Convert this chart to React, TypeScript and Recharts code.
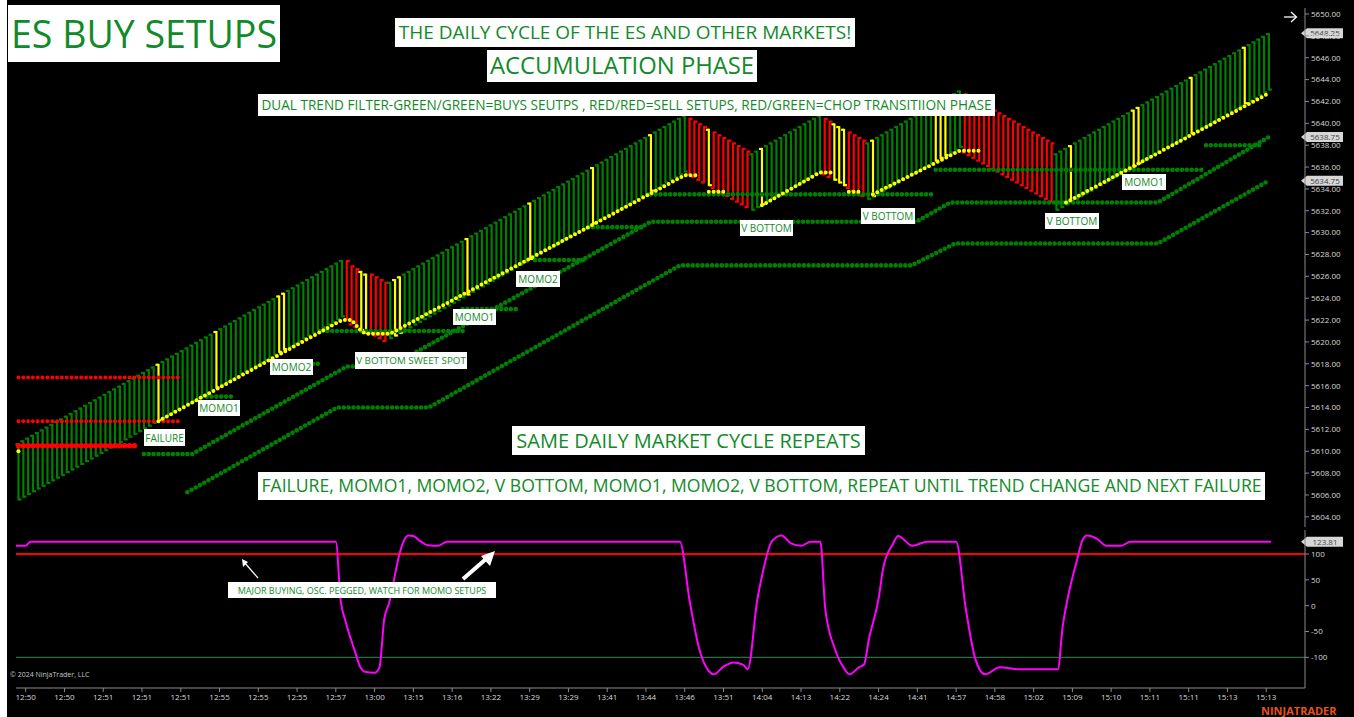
import React from "react";
import { ComposedChart, Bar, Line, XAxis, YAxis, ReferenceLine } from "recharts";

// bar highs / lows, one per bar (index 0..259)
const barHighs = [
  5610.75, 5611, 5611.25, 5611.5, 5611.75, 5612, 5612.25, 5612.5, 5612.75, 5613,
  5613.25, 5613.5, 5613.75, 5614, 5614.25, 5614.5, 5614.75, 5615, 5615.25, 5615.5,
  5615.75, 5616, 5616.25, 5616.5, 5616.75, 5617, 5617.25, 5617.5, 5617.75, 5618,
  5618.25, 5618.5, 5618.75, 5619, 5619.25, 5619.5, 5619.75, 5620, 5620.25, 5620.5,
  5620.75, 5621, 5621.25, 5621.5, 5621.75, 5622, 5622.25, 5622.5, 5622.75, 5623,
  5623.25, 5623.5, 5623.75, 5624, 5624.25, 5624.5, 5624.75, 5625, 5625.25, 5625.5,
  5625.75, 5626, 5626.25, 5626.5, 5626.75, 5627, 5627.25, 5627.5, 5627.5, 5627,
  5626.75, 5626.5, 5626.25, 5626.25, 5626, 5625.75, 5625.5, 5625.5, 5625.75, 5626,
  5626.25, 5626.5, 5626.75, 5627, 5627.25, 5627.5, 5627.75, 5628, 5628.25, 5628.5,
  5628.75, 5629, 5629.25, 5629.5, 5629.75, 5630, 5630.25, 5630.5, 5630.75, 5631,
  5631.25, 5631.5, 5631.75, 5632, 5632.25, 5632.5, 5632.75, 5633, 5633.25, 5633.5,
  5633.75, 5634, 5634.25, 5634.5, 5634.75, 5635, 5635.25, 5635.5, 5635.75, 5636,
  5636.25, 5636.5, 5636.75, 5637, 5637.25, 5637.5, 5637.75, 5638, 5638.25, 5638.5,
  5638.75, 5639, 5639.25, 5639.5, 5639.75, 5640, 5640.25, 5640.5, 5640.75, 5640.5,
  5640.25, 5640, 5639.75, 5639.5, 5639.25, 5639, 5638.75, 5638.5, 5638.25, 5638,
  5637.75, 5637.5, 5637.25, 5637.5, 5637.75, 5638, 5638.25, 5638.5, 5638.75, 5639,
  5639.25, 5639.5, 5639.75, 5640, 5640.25, 5640.5, 5640.75, 5640.5, 5640.25, 5640,
  5639.75, 5639.5, 5639.25, 5639, 5638.75, 5638.5, 5638.25, 5638.5, 5638.75, 5639,
  5639.25, 5639.5, 5639.75, 5640, 5640.25, 5640.5, 5640.75, 5641, 5641.25, 5641.5,
  5641.75, 5642, 5642.25, 5642.5, 5642.75, 5643, 5642.75, 5642.5, 5642.25, 5642,
  5641.75, 5641.5, 5641.25, 5641, 5640.75, 5640.5, 5640.25, 5640, 5639.75, 5639.5,
  5639.25, 5639, 5638.75, 5638.5, 5638.25, 5637.25, 5637.5, 5637.75, 5638, 5638.25,
  5638.5, 5638.75, 5639, 5639.25, 5639.5, 5639.75, 5640, 5640.25, 5640.5, 5640.75,
  5641, 5641.25, 5641.5, 5641.75, 5642, 5642.25, 5642.5, 5642.75, 5643, 5643.25,
  5643.5, 5643.75, 5644, 5644.25, 5644.5, 5644.75, 5645, 5645.25, 5645.5, 5645.75,
  5646, 5646.25, 5646.5, 5646.75, 5647, 5647.25, 5647.5, 5647.75, 5648, 5648.25,
];

const barLows = [
  5605.5, 5605.75, 5606, 5606.25, 5606.5, 5606.75, 5607, 5607.25, 5607.5, 5607.75,
  5608, 5608.25, 5608.5, 5608.75, 5609, 5609.25, 5609.5, 5609.75, 5610, 5610.25,
  5610.5, 5610.75, 5611, 5611.25, 5611.5, 5611.75, 5612, 5612.25, 5612.5, 5612.75,
  5613, 5613.25, 5613.5, 5613.75, 5614, 5614.25, 5614.5, 5614.75, 5615, 5615.25,
  5615.5, 5615.75, 5616, 5616.25, 5616.5, 5616.75, 5617, 5617.25, 5617.5, 5617.75,
  5618, 5618.25, 5618.5, 5618.75, 5619, 5619.25, 5619.5, 5619.75, 5620, 5620.25,
  5620.5, 5620.75, 5621, 5621.25, 5621.5, 5621.75, 5622, 5622.25, 5622, 5621.5,
  5621.25, 5621, 5620.75, 5620.75, 5620.5, 5620.25, 5620, 5620.25, 5620.5, 5620.75,
  5621, 5621.25, 5621.5, 5621.75, 5622, 5622.25, 5622.5, 5622.75, 5623, 5623.25,
  5623.5, 5623.75, 5624, 5624.25, 5624.5, 5624.75, 5625, 5625.25, 5625.5, 5625.75,
  5626, 5626.25, 5626.5, 5626.75, 5627, 5627.25, 5627.5, 5627.75, 5628, 5628.25,
  5628.5, 5628.75, 5629, 5629.25, 5629.5, 5629.75, 5630, 5630.25, 5630.5, 5630.75,
  5631, 5631.25, 5631.5, 5631.75, 5632, 5632.25, 5632.5, 5632.75, 5633, 5633.25,
  5633.5, 5633.75, 5634, 5634.25, 5634.5, 5634.75, 5635, 5635.25, 5635.5, 5635.25,
  5635, 5634.75, 5634.5, 5634.25, 5634, 5633.75, 5633.5, 5633.25, 5633, 5632.75,
  5632.5, 5632.25, 5632, 5632.25, 5632.5, 5632.75, 5633, 5633.25, 5633.5, 5633.75,
  5634, 5634.25, 5634.5, 5634.75, 5635, 5635.25, 5635.5, 5635.25, 5635, 5634.75,
  5634.5, 5634.25, 5634, 5633.75, 5633.5, 5633.25, 5633, 5633.25, 5633.5, 5633.75,
  5634, 5634.25, 5634.5, 5634.75, 5635, 5635.25, 5635.5, 5635.75, 5636, 5636.25,
  5636.5, 5636.75, 5637, 5637.25, 5637.5, 5637.75, 5637.25, 5637, 5636.75, 5636.5,
  5636.25, 5636, 5635.75, 5635.5, 5635.25, 5635, 5634.75, 5634.5, 5634.25, 5634,
  5633.75, 5633.5, 5633.25, 5633, 5632.75, 5632, 5632.25, 5632.5, 5632.75, 5633,
  5633.25, 5633.5, 5633.75, 5634, 5634.25, 5634.5, 5634.75, 5635, 5635.25, 5635.5,
  5635.75, 5636, 5636.25, 5636.5, 5636.75, 5637, 5637.25, 5637.5, 5637.75, 5638,
  5638.25, 5638.5, 5638.75, 5639, 5639.25, 5639.5, 5639.75, 5640, 5640.25, 5640.5,
  5640.75, 5641, 5641.25, 5641.5, 5641.75, 5642, 5642.25, 5642.5, 5642.75, 5643,
];

// bar colour runs: g = green, r = red, y = yellow
const colorRuns: [string, number][] = [
  ["g", 29], ["y", 1], ["g", 11], ["y", 1], ["g", 12], ["y", 2], ["g", 12],
  ["r", 3], ["y", 2], ["r", 4], ["g", 1], ["y", 2], ["g", 13], ["y", 1],
  ["g", 12], ["y", 1], ["g", 12], ["y", 1], ["g", 11], ["y", 1], ["g", 7],
  ["r", 4], ["y", 1], ["r", 8], ["g", 2], ["y", 1], ["g", 12], ["r", 2],
  ["y", 3], ["r", 4], ["g", 1], ["y", 1], ["g", 12], ["y", 3], ["g", 3],
  ["r", 19], ["g", 3], ["y", 1], ["g", 12], ["y", 2], ["g", 10], ["y", 1],
  ["g", 10], ["y", 1], ["g", 5],
];

// trailing stop dots [bar index, price] vertices
const greenStops: [number, number][][] = [
  [[35, 5606.25], [66, 5614], [85, 5614], [137, 5627], [185, 5627], [194, 5629], [236, 5629], [259, 5634.75]],
  [[26, 5609.75], [36, 5609.75], [68, 5617.75], [77, 5617.75], [131, 5631], [186, 5631], [193, 5632.75], [236, 5632.75], [259, 5638.75]],
  [[38, 5615], [45, 5615]],
  [[55, 5618], [63, 5618]],
  [[63, 5621], [93, 5621]],
  [[92, 5623], [104, 5623]],
  [[107, 5627.5], [118, 5627.5]],
  [[118, 5630.5], [130, 5630.5]],
  [[131, 5633.5], [190, 5633.5]],
  [[190, 5635.75], [246, 5635.75]],
  [[246, 5638], [258, 5638]],
];

const yellowTrail: [number, number][][] = [
  [[0, 5610]],
  [[29, 5612.75], [67, 5622], [69, 5622], [70, 5621.5], [71, 5621], [72, 5620.75], [77, 5620.75], [138, 5635.25], [141, 5635.25]],
  [[143, 5633.75], [147, 5633.75]],
  [[154, 5632.5], [166, 5635.5], [169, 5635.5]],
  [[172, 5633.75], [175, 5633.75]],
  [[177, 5633.5], [195, 5637.5], [199, 5637.5]],
  [[217, 5632.75], [259, 5642.75]],
];

const redLevels: [number, number][][] = [
  [[0, 5616.75], [34, 5616.75]],
  [[0, 5612.75], [34, 5612.75]],
  [[0, 5610.5], [25, 5610.5]],
];

// oscillator vertices [bar index, value]
const oscPoints: [number, number][] = [
  [0, 116], [2, 116], [3, 123.81], [66, 123.81], [67, 10], [68, -30], [70, -90], [71, -118],
  [72, -128], [74, -130], [75, -120], [76, -25], [77, 5], [78, 50], [79, 95], [80, 125],
  [81, 136], [82, 135], [83, 128], [85, 117], [87, 116], [89, 123.81], [137, 123.81],
  [139, 10], [141, -84], [143, -127], [144, -133], [146, -118], [148, -110], [150, -114],
  [151, -123], [153, 13], [154, 60], [156, 125], [158, 136], [160, 120], [162, 116],
  [164, 123.81], [166, 123.81], [167, -6], [169, -84], [171, -123], [172, -133], [174, -119],
  [175, -114], [176, -65], [178, 13], [179, 75], [181, 120], [182, 135], [185, 116],
  [188, 123.81], [194, 123.81], [196, -6], [198, -104], [200, -133], [203, -119], [207, -123],
  [215, -123], [216, -40], [217, 13], [219, 90], [220, 125], [221, 136], [223, 130],
  [225, 116], [228, 116], [230, 123.81], [259, 123.81],
];

const timeLabels = [
  "12:50", "12:50", "12:51", "12:51", "12:51", "12:55", "12:55", "12:55", "12:57", "13:00",
  "13:15", "13:16", "13:22", "13:29", "13:29", "13:41", "13:44", "13:46", "13:51", "14:04",
  "14:13", "14:22", "14:24", "14:41", "14:57", "14:58", "15:02", "15:09", "15:10", "15:11",
  "15:11", "15:13", "15:13",
];

const priceTicks = [
  5604, 5606, 5608, 5610, 5612, 5614, 5616, 5618, 5620, 5622, 5624, 5626,
  5628, 5630, 5632, 5634, 5636, 5638, 5640, 5642, 5644, 5646, 5648, 5650,
];
const oscTicks = [100, 50, 0, -50, -100];

const COLORS: Record<string, string> = { g: "#008000", r: "#ff0000", y: "#ffff00" };
const GREEN_DOT = "#008000";
const PAD = 7;
const STEP = 4.83;

const tickIdx = timeLabels.map((_, k) => 2 + 8 * k);
const labelAt: Record<number, string> = {};
tickIdx.forEach((t, k) => (labelAt[t] = timeLabels[k]));

function buildRows() {
  const colors: string[] = colorRuns.flatMap(([c, n]) => Array(n).fill(c));
  const rows: any[] = [];
  for (let i = 0; i < barHighs.length + PAD; i++) {
    rows.push({ idx: i, high: barHighs[i], low: barLows[i], color: colors[i] });
  }
  const put = (prefix: string, segs: [number, number][][]) =>
    segs.forEach((seg, k) => seg.forEach(([i, v]) => (rows[i][prefix + k] = v)));
  put("g", greenStops);
  put("y", yellowTrail);
  put("r", redLevels);
  oscPoints.forEach(([i, v]) => (rows[i].osc = v));
  return rows;
}
const rows = buildRows();

function RangeBar(props: any) {
  const { x, y, width, height, payload } = props;
  if (!payload || payload.high == null) return null;
  const c = COLORS[payload.color];
  const cx = x + width / 2;
  const t = 3;
  const up = payload.color !== "r";
  const yb = y + height;
  return (
    <g stroke={c} strokeWidth={2.2} fill="none">
      <line x1={cx} y1={y} x2={cx} y2={yb} />
      <line x1={up ? cx - t : cx} y1={y + 1} x2={up ? cx : cx + t} y2={y + 1} />
      <line x1={up ? cx : cx - t} y1={yb - 1} x2={up ? cx + t : cx} y2={yb - 1} />
    </g>
  );
}

function PriceTag(props: any) {
  const { viewBox, text } = props;
  if (!viewBox) return null;
  const x0 = viewBox.x + viewBox.width - 4;
  const y = viewBox.y;
  return (
    <g>
      <path
        d={`M${x0},${y} L${x0 + 6},${y - 5} L${x0 + 42},${y - 5} L${x0 + 42},${y + 5} L${x0 + 6},${y + 5} Z`}
        fill="#d6d6d6"
      />
      <text x={x0 + 24} y={y + 3} textAnchor="middle" fontSize={8} fill="#444" fontFamily="'Open Sans', sans-serif">
        {text}
      </text>
    </g>
  );
}

const axisTick = { fill: "#d8d8d8", fontSize: 8, fontFamily: "'Open Sans', sans-serif" };

function dotLine(key: string, color: string, w: number, single: boolean) {
  return (
    <Line
      key={key}
      dataKey={key}
      type="linear"
      connectNulls
      stroke={color}
      strokeWidth={w}
      strokeDasharray={`0 ${STEP}`}
      strokeLinecap="round"
      dot={single ? { r: w / 2, fill: color, stroke: "none" } : false}
      activeDot={false}
      isAnimationActive={false}
    />
  );
}

function PriceChart() {
  return (
    <ComposedChart width={1354} height={527} data={rows} margin={{ top: 8, right: 0, bottom: 0, left: 16 }} barCategoryGap={0}>
      <XAxis dataKey="idx" type="category" hide />
      <YAxis
        orientation="right"
        width={49}
        domain={[5603.07, 5650.55]}
        allowDataOverflow
        ticks={priceTicks}
        interval={0}
        tickFormatter={(v: number) => v.toFixed(2)}
        tick={axisTick}
        tickSize={4}
        axisLine={{ stroke: "#8a8a8a" }}
        tickLine={{ stroke: "#8a8a8a" }}
      />
      <Bar dataKey={(d: any) => (d.high == null ? null : [d.low, d.high])} shape={<RangeBar />} isAnimationActive={false} />
      {redLevels.map((_, k) => dotLine("r" + k, "#ff0000", k === 2 ? 5.5 : 4, false))}
      {greenStops.map((s, k) => dotLine("g" + k, GREEN_DOT, 4.6, s.length === 1))}
      {yellowTrail.map((s, k) => dotLine("y" + k, "#ffff00", 4, s.length === 1))}
      <ReferenceLine y={5648.25} stroke="none" label={<PriceTag text="5648.25" />} />
      <ReferenceLine y={5638.75} stroke="none" label={<PriceTag text="5638.75" />} />
      <ReferenceLine y={5634.75} stroke="none" label={<PriceTag text="5634.75" />} />
    </ComposedChart>
  );
}

function OscChart() {
  return (
    <ComposedChart width={1354} height={190} data={rows} margin={{ top: 3, right: 0, bottom: 0, left: 16 }}>
      <XAxis
        dataKey="idx"
        type="category"
        ticks={tickIdx}
        interval={0}
        tickFormatter={(v: number) => labelAt[v] ?? ""}
        tick={axisTick}
        tickSize={4}
        height={29}
        axisLine={{ stroke: "#8a8a8a" }}
        tickLine={{ stroke: "#8a8a8a" }}
      />
      <YAxis
        orientation="right"
        width={49}
        domain={[-159.4, 146.5]}
        allowDataOverflow
        ticks={oscTicks}
        interval={0}
        tick={axisTick}
        tickSize={4}
        axisLine={{ stroke: "#8a8a8a" }}
        tickLine={{ stroke: "#8a8a8a" }}
      />
      <ReferenceLine y={100} stroke="#ff0000" strokeWidth={2} />
      <ReferenceLine y={-100} stroke="#2e8b57" strokeWidth={1} />
      <Line dataKey="osc" type="monotone" connectNulls stroke="#ff00ff" strokeWidth={2} dot={false} activeDot={false} isAnimationActive={false} />
      <ReferenceLine y={123.81} stroke="none" label={<PriceTag text="123.81" />} />
    </ComposedChart>
  );
}

const notes = [
  { text: "ES BUY SETUPS", x: 8, y: 5, w: 272, h: 57, fs: 37.5 },
  { text: "THE DAILY CYCLE OF THE ES AND OTHER MARKETS!", x: 395, y: 18, w: 460, h: 29, fs: 19 },
  { text: "ACCUMULATION PHASE", x: 487, y: 50, w: 270, h: 32, fs: 23.8 },
  { text: "DUAL TREND FILTER-GREEN/GREEN=BUYS SEUTPS , RED/RED=SELL SETUPS, RED/GREEN=CHOP TRANSITIION PHASE", x: 258, y: 94, w: 737, h: 22, fs: 13.6 },
  { text: "FAILURE", x: 144, y: 429, w: 41, h: 17, fs: 10 },
  { text: "MOMO1", x: 198, y: 400, w: 42, h: 16, fs: 10 },
  { text: "MOMO2", x: 270, y: 359, w: 43, h: 16, fs: 10 },
  { text: "V BOTTOM SWEET SPOT", x: 355, y: 352, w: 112, h: 17, fs: 9.8 },
  { text: "MOMO1", x: 453, y: 309, w: 43, h: 16, fs: 10 },
  { text: "MOMO2", x: 516, y: 271, w: 44, h: 16, fs: 10 },
  { text: "V BOTTOM", x: 740, y: 220, w: 53, h: 16, fs: 10 },
  { text: "V BOTTOM", x: 861, y: 208, w: 54, h: 16, fs: 10 },
  { text: "V BOTTOM", x: 1045, y: 213, w: 54, h: 16, fs: 10 },
  { text: "MOMO1", x: 1122, y: 174, w: 44, h: 16, fs: 10 },
  { text: "SAME DAILY MARKET CYCLE REPEATS", x: 512, y: 426, w: 353, h: 29, fs: 20 },
  { text: "FAILURE, MOMO1, MOMO2, V BOTTOM, MOMO1, MOMO2, V BOTTOM, REPEAT UNTIL TREND CHANGE AND NEXT FAILURE", x: 258, y: 472, w: 1007, h: 28, fs: 17.6 },
  { text: "MAJOR BUYING, OSC. PEGGED, WATCH FOR MOMO SETUPS", x: 228, y: 582, w: 268, h: 16, fs: 9 },
];

function Note({ text, x, y, w, h, fs }: any) {
  return (
    <div
      style={{
        position: "absolute", left: x, top: y, width: w, height: h, background: "#fff",
        color: "#128a2a", fontSize: fs, display: "flex", alignItems: "center", justifyContent: "center",
        whiteSpace: "nowrap", fontFamily: "'Open Sans', sans-serif", lineHeight: 1,
      }}
    >
      {text}
    </div>
  );
}

export default function App() {
  return (
    <div style={{ position: "fixed", left: 0, top: 0, width: 1354, height: 717, background: "#000", overflow: "hidden" }}>
      <div style={{ position: "absolute", left: 0, top: 0, width: 7, height: 717, background: "#fff" }} />
      <div style={{ position: "absolute", left: 0, top: 0 }}>
        <PriceChart />
      </div>
      <div style={{ position: "absolute", left: 0, top: 527 }}>
        <OscChart />
      </div>
      {notes.map((n, k) => (
        <Note key={k} {...n} />
      ))}
      <svg width={1354} height={717} style={{ position: "absolute", left: 0, top: 0, pointerEvents: "none" }}>
        <line x1={258} y1={578} x2={244} y2={562} stroke="#fff" strokeWidth={1.2} />
        <path d="M242,559 L243,567 L248,562 Z" fill="#fff" />
        <line x1={463} y1={579} x2={486} y2={559} stroke="#fff" strokeWidth={4} />
        <path d="M495,551 L481,556 L490,566 Z" fill="#fff" />
        <line x1={1284} y1={17} x2={1296} y2={17} stroke="#fff" strokeWidth={1.3} />
        <path d="M1291,12 L1296.5,17 L1291,22" stroke="#fff" strokeWidth={1.3} fill="none" />
      </svg>
      <div style={{ position: "absolute", left: 10, top: 670, fontSize: 7, color: "#c8c8c8", fontFamily: "'Open Sans', sans-serif" }}>
        © 2024 NinjaTrader, LLC
      </div>
      <div style={{ position: "absolute", left: 1261, top: 705, fontSize: 11, lineHeight: "11px", fontWeight: 700, color: "#e8501e", fontFamily: "'Open Sans', sans-serif" }}>
        NINJATRADER
      </div>
    </div>
  );
}
